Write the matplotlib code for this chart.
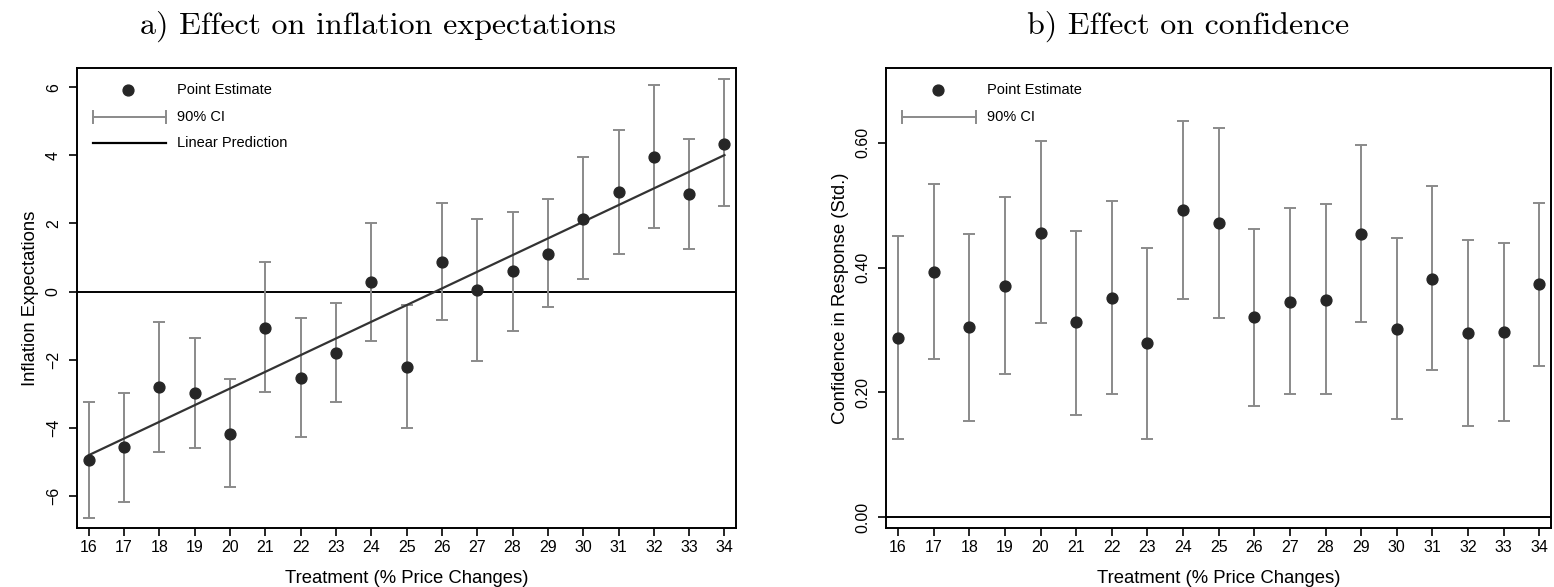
import numpy as np
import matplotlib
matplotlib.use('Agg')
import matplotlib.pyplot as plt

plt.rcParams['font.family'] = ['Liberation Sans', 'DejaVu Sans']

# treatment levels (% price changes)
treat = [16, 17, 18, 19, 20, 21, 22, 23, 24, 25, 26, 27, 28, 29, 30, 31, 32, 33, 34]

# panel a) inflation expectations, point estimates and 90% CI
infl = [-4.96, -4.56, -2.80, -2.99, -4.19, -1.06, -2.55, -1.80, 0.28, -2.21,
        0.88, 0.04, 0.59, 1.11, 2.13, 2.92, 3.96, 2.87, 4.34]
infl_lo = [-6.65, -6.20, -4.73, -4.61, -5.76, -2.96, -4.28, -3.25, -1.45, -4.00,
           -0.84, -2.03, -1.16, -0.46, 0.37, 1.09, 1.86, 1.25, 2.51]
infl_hi = [-3.25, -2.98, -0.89, -1.38, -2.58, 0.87, -0.78, -0.35, 2.00, -0.40,
           2.61, 2.12, 2.34, 2.73, 3.94, 4.75, 6.07, 4.48, 6.24]
# linear prediction endpoints
lin_x = [16, 34]
lin_y = [-4.81, 4.01]

# panel b) confidence in response (std.)
conf = [0.287, 0.393, 0.305, 0.371, 0.456, 0.312, 0.352, 0.279, 0.492, 0.471,
        0.320, 0.345, 0.348, 0.454, 0.302, 0.382, 0.295, 0.297, 0.373]
conf_lo = [0.125, 0.253, 0.155, 0.229, 0.311, 0.164, 0.197, 0.125, 0.349, 0.319,
           0.179, 0.197, 0.197, 0.313, 0.158, 0.236, 0.146, 0.155, 0.242]
conf_hi = [0.450, 0.534, 0.454, 0.513, 0.603, 0.459, 0.507, 0.432, 0.635, 0.623,
           0.462, 0.495, 0.501, 0.596, 0.447, 0.531, 0.444, 0.439, 0.504]

infl_ticks = [-6, -4, -2, 0, 2, 4, 6]
conf_ticks = [0.0, 0.2, 0.4, 0.6]

ci_col = '#8a8a8a'
pt_col = '#262626'

fig = plt.figure(figsize=(15.54, 5.87), dpi=100)
ax1 = fig.add_axes([0.0494, 0.100, 0.4243, 0.7836])
ax2 = fig.add_axes([0.5701, 0.100, 0.4280, 0.7836])


def draw_panel(ax, y, lo, hi):
    y = np.array(y)
    err = [y - np.array(lo), np.array(hi) - y]
    ax.errorbar(treat, y, yerr=err, fmt='none', ecolor=ci_col, elinewidth=1.4,
                capsize=4.5, capthick=1.4, zorder=2)
    ax.plot(treat, y, 'o', color=pt_col, markersize=7.8, zorder=4)
    ax.axhline(0, color='black', lw=1.4, zorder=1)
    ax.set_xlim(15.66, 34.33)
    ax.set_xticks(treat)
    ax.tick_params(direction='out', length=6, width=1.2, labelsize=11.5, colors='black')
    ax.tick_params(axis='x', pad=2.5)
    ax.tick_params(axis='y', pad=5.5)
    for lab in ax.get_yticklabels():
        lab.set_rotation(90)
        lab.set_va('center')
    for s in ax.spines.values():
        s.set_linewidth(1.4)
    ax.set_xlabel('Treatment (% Price Changes)', fontsize=13.3, labelpad=11)


def legend_keys(ax, with_line):
    tr = ax.transAxes
    ax.plot([0.078], [0.953], 'o', color=pt_col, markersize=7.8, transform=tr)
    ax.text(0.152, 0.953, 'Point Estimate', transform=tr, va='center', fontsize=10.5)
    ax.plot([0.024, 0.136], [0.895, 0.895], color=ci_col, lw=1.4, transform=tr)
    for xc in (0.024, 0.136):
        ax.plot([xc, xc], [0.882, 0.908], color=ci_col, lw=1.4, transform=tr)
    ax.text(0.152, 0.895, '90% CI', transform=tr, va='center', fontsize=10.5)
    if with_line:
        ax.plot([0.024, 0.136], [0.837, 0.837], color='black', lw=1.6, transform=tr)
        ax.text(0.152, 0.837, 'Linear Prediction', transform=tr, va='center', fontsize=10.5)


# panel a
ax1.set_ylim(-6.96, 6.56)
ax1.set_yticks(infl_ticks)
ax1.set_yticklabels([str(t).replace('-', '\u2212') for t in infl_ticks])
ax1.plot(lin_x, lin_y, color='#333333', lw=1.6, zorder=3)
draw_panel(ax1, infl, infl_lo, infl_hi)
ax1.set_ylabel('Inflation Expectations', fontsize=13.3, labelpad=5)
legend_keys(ax1, True)

# panel b
ax2.set_ylim(-0.0176, 0.719)
ax2.set_yticks(conf_ticks)
ax2.set_yticklabels(['%.2f' % t for t in conf_ticks])
draw_panel(ax2, conf, conf_lo, conf_hi)
ax2.set_ylabel('Confidence in Response (Std.)', fontsize=13.3, labelpad=4)
legend_keys(ax2, False)

fig.text(0.243, 0.955, 'a) Effect on inflation expectations', ha='center', va='center',
         fontsize=23, family='cmr10')
fig.text(0.7645, 0.955, 'b) Effect on confidence', ha='center', va='center',
         fontsize=23, family='cmr10')

fig.savefig('out.png', dpi=100)
